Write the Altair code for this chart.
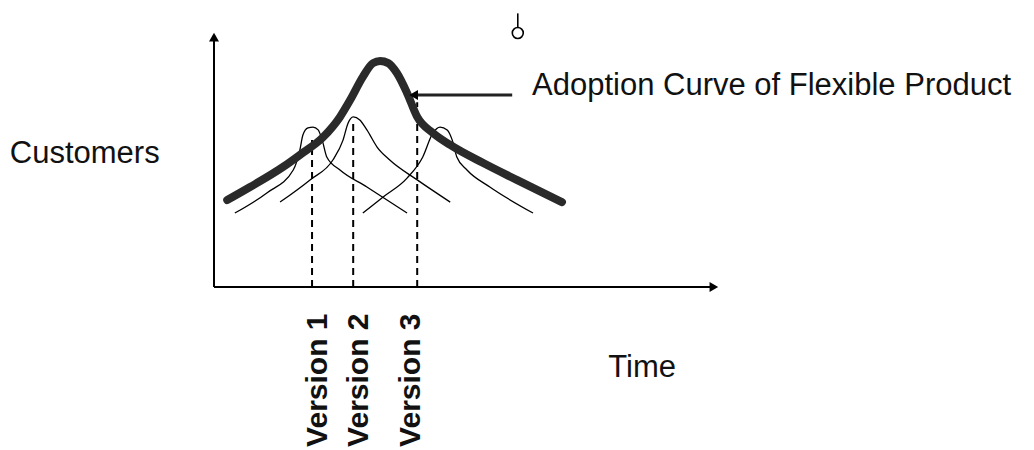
import altair as alt
import pandas as pd

# ---------------- data (diagram units: time 0-100 along x-axis, customers 0-100 along y-axis)
flex_t = [2.6, 7.1, 13.6, 16.9, 21.5, 24.8, 26.8, 29.3, 31.3, 32.7, 34.3, 36.0, 38.0, 40.0, 43.1, 46.5, 53.0, 59.6, 68.5]
flex_c = [34.1, 39.2, 47.1, 51.8, 58.8, 66.7, 73.3, 82.4, 87.8, 88.6, 87.8, 83.9, 76.1, 66.7, 60.4, 55.7, 48.6, 42.0, 33.3]

v1_t = [4.1, 10.4, 15.6, 16.9, 17.5, 18.5, 19.5, 20.5, 21.3, 22.2, 24.8, 30.1, 38.0]
v1_c = [29.0, 36.9, 45.9, 53.7, 59.6, 62.4, 62.7, 61.6, 57.6, 51.0, 45.9, 39.2, 29.0]

v2_t = [13.0, 18.9, 23.4, 25.4, 26.4, 27.4, 28.7, 30.1, 32.1, 34.6, 40.0, 46.5]
v2_c = [33.3, 42.0, 49.8, 57.6, 64.3, 66.7, 65.5, 61.6, 54.9, 49.8, 42.0, 33.3]

v3_t = [29.3, 33.3, 38.0, 41.1, 43.1, 44.5, 45.9, 46.9, 47.8, 49.8, 54.3, 62.8]
v3_c = [29.0, 35.3, 42.7, 51.0, 60.4, 62.7, 61.6, 57.6, 51.0, 45.9, 39.2, 29.0]

version_names = ["Version 1", "Version 2", "Version 3"]
version_release_t = [19.3, 27.4, 40.0]
version_top_c = [57.6, 64.3, 72.5]
version_label_t = [22.2, 30.3, 40.6]
version_label_c = [-62.7, -62.7, -62.7]

y_title = "Customers"
x_title = "Time"
callout = "Adoption Curve of Flexible Product"

# ---------------- layout (page pixels -> diagram units)
W, H = 1018, 442
X0, X1 = 214, 722   # page x of time 0 and 100
Y0, Y1 = 287, 32    # page y of customers 0 and 100
kx = (X1 - X0) / 100
ky = (Y0 - Y1) / 100
x_dom = [(8 - X0) / kx, (8 + W - X0) / kx]
y_dom = [(Y0 - (8 + H)) / ky, (Y0 - 8) / ky]

X = lambda f="t": alt.X(f"{f}:Q", scale=alt.Scale(domain=x_dom, nice=False, zero=False), axis=None)
Y = lambda f="c": alt.Y(f"{f}:Q", scale=alt.Scale(domain=y_dom, nice=False, zero=False), axis=None)

# ---------------- frames
flex_df = pd.DataFrame({"t": flex_t, "c": flex_c, "i": range(len(flex_t))})
ver_df = pd.concat([
    pd.DataFrame({"t": v1_t, "c": v1_c, "s": "v1", "i": range(len(v1_t))}),
    pd.DataFrame({"t": v2_t, "c": v2_c, "s": "v2", "i": range(len(v2_t))}),
    pd.DataFrame({"t": v3_t, "c": v3_c, "s": "v3", "i": range(len(v3_t))}),
])
rel_df = pd.DataFrame({"t": version_release_t, "c": [0, 0, 0], "c2": version_top_c})
lab_df = pd.DataFrame({"t": version_label_t, "c": version_label_c, "label": version_names})

axes_df = pd.DataFrame({"t": [0, 0], "c": [0, 0], "t2": [0, 98.5], "c2": [98, 0]})
axis_heads = pd.DataFrame({"t": [0, 98.4], "c": [98.0, 0], "shape": ["triangle-up", "triangle-right"]})

arrow_df = pd.DataFrame({"t": [40.0], "c": [75.3], "t2": [58.7]})
arrow_head = pd.DataFrame({"t": [39.3], "c": [75.3]})

glyph_ring = pd.DataFrame({"t": [59.8], "c": [99.6]})
glyph_stem = pd.DataFrame({"t": [59.8], "c": [101.8], "c2": [107.3]})

texts_df = pd.DataFrame({
    "t": [-40.2, 77.6, 62.6],
    "c": [48.6, -35.3, 75.3],
    "label": [y_title, x_title, callout],
})

# ---------------- layers
axes = alt.Chart(axes_df).mark_rule(color="black", strokeWidth=2).encode(
    x=X(), y=Y(), x2="t2:Q", y2="c2:Q")
heads = alt.Chart(axis_heads).mark_point(filled=True, color="black", size=100, opacity=1).encode(
    x=X(), y=Y(), shape=alt.Shape("shape:N", scale=None))

thin = alt.Chart(ver_df).mark_line(interpolate="monotone", color="black", strokeWidth=1.3).encode(
    x=X(), y=Y(), detail="s:N", order="i:Q")

dashes = alt.Chart(rel_df).mark_rule(color="black", strokeWidth=2, strokeDash=[7, 5]).encode(
    x=X(), y=Y(), y2="c2:Q")

thick = alt.Chart(flex_df).mark_line(interpolate="monotone", color="#2a2a2a", strokeWidth=8,
                                     strokeCap="round", strokeJoin="round").encode(
    x=X(), y=Y(), order="i:Q")

arrow = alt.Chart(arrow_df).mark_rule(color="#222", strokeWidth=3).encode(x=X(), y=Y(), x2="t2:Q")
arrowh = alt.Chart(arrow_head).mark_point(shape="triangle-left", filled=True, color="black",
                                          size=100, opacity=1).encode(x=X(), y=Y())

ring = alt.Chart(glyph_ring).mark_point(shape="circle", filled=False, color="black",
                                        size=120, strokeWidth=1.6, opacity=1).encode(x=X(), y=Y())
stem = alt.Chart(glyph_stem).mark_rule(color="black", strokeWidth=1.6).encode(x=X(), y=Y(), y2="c2:Q")

txt = alt.Chart(texts_df).mark_text(align="left", baseline="alphabetic", font="Liberation Sans",
                                    fontSize=31, color="#111").encode(
    x=X(), y=Y(), text="label:N")

vlab = alt.Chart(lab_df).mark_text(align="left", baseline="alphabetic", angle=270,
                                   font="Liberation Sans", fontSize=30, fontWeight="bold",
                                   color="#111").encode(x=X(), y=Y(), text="label:N")

chart = alt.layer(axes, heads, thin, dashes, thick, arrow, arrowh, ring, stem, txt, vlab).properties(
    width=W, height=H, padding=0, autosize=alt.AutoSizeParams(type="none"),
    background="white",
).configure_view(stroke=None)

chart.save("out.html", embed_options={"renderer": "svg", "actions": False})
